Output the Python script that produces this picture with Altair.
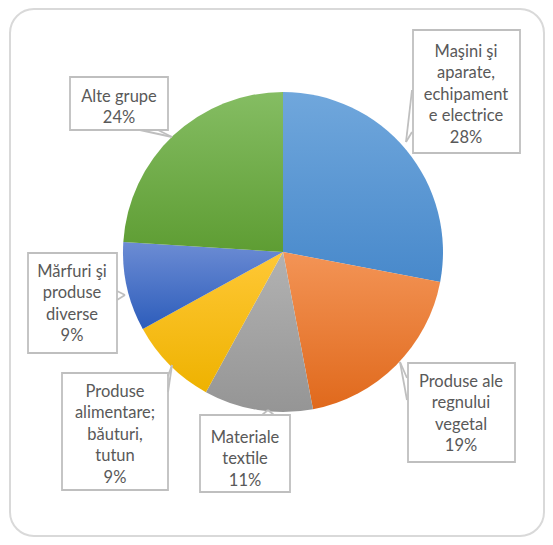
import altair as alt
import pandas as pd

# ---- data ----
categories = [
    "Maşini şi aparate, echipamente electrice",
    "Produse ale regnului vegetal",
    "Materiale textile",
    "Produse alimentare; băuturi, tutun",
    "Mărfuri şi produse diverse",
    "Alte grupe",
]
shares = [28, 19, 11, 9, 9, 24]
label_texts = [
    "Maşini şi\naparate,\nechipament\ne electrice\n28%",
    "Produse ale\nregnului\nvegetal\n19%",
    "Materiale\ntextile\n11%",
    "Produse\nalimentare;\nbăuturi,\ntutun\n9%",
    "Mărfuri şi\nproduse\ndiverse\n9%",
    "Alte grupe\n24%",
]
# (top, bottom) shades of each slice's vertical gradient
colors_top = ["#70a7dc", "#f39456", "#b2b2b2", "#ffc836", "#6c8cd4", "#85bd63"]
colors_bottom = ["#4889cb", "#e0691c", "#959595", "#eeb200", "#2d5dbb", "#5e9d33"]

# ---- layout (canvas pixels) ----
W, H = 537, 529
CX, CY, R = 275, 244, 160
label_first_line = [(458, 44), (453, 374), (237, 430), (107, 384), (64, 264), (111, 89)]
line_height = 21.4
label_box = [(405, 512, 22, 145), (400, 507, 355, 454), (192, 282, 407, 484),
             (54, 160, 365, 482), (20, 109, 245, 345), (62, 160, 69, 122)]
# callout pointer segments (x1, y1, x2, y2)
leaders = [
    (404, 82, 398, 134), (398, 134, 404, 124),
    (392, 354, 399, 370), (392, 354, 399, 392),
    (254, 407, 260, 402), (260, 402, 266, 407),
    (160, 384, 164, 357), (164, 357, 160, 368),
    (109, 283, 117, 287), (117, 287, 109, 292),
    (132, 122, 164, 129), (164, 129, 150, 122),
]

pie_df = pd.DataFrame({"cat": categories, "share": shares, "order": list(range(len(shares)))})
lab_df = pd.DataFrame({
    "text": label_texts,
    "tx": [c[0] for c in label_first_line], "ty": [c[1] for c in label_first_line],
    "x1": [b[0] for b in label_box], "x2": [b[1] for b in label_box],
    "y1": [b[2] for b in label_box], "y2": [b[3] for b in label_box],
})
lead_df = pd.DataFrame({
    "x1": [l[0] for l in leaders], "y1": [l[1] for l in leaders],
    "x2": [l[2] for l in leaders], "y2": [l[3] for l in leaders],
})
card_df = pd.DataFrame({"k": [0]})

card = alt.Chart(card_df).mark_rect(
    cornerRadius=24, fill="white", stroke="#d9d9d9", strokeWidth=2
).encode(x=alt.value(2), x2=alt.value(536), y=alt.value(1), y2=alt.value(528))

total = sum(shares)
base = alt.Chart(pie_df).transform_window(
    cum="sum(share)", sort=[alt.SortField("order")]
).transform_calculate(start="datum.cum - datum.share")

slices = []
for i in range(len(categories)):
    grad = {
        "gradient": "linear", "x1": 0, "y1": 0, "x2": 0, "y2": 1,
        "stops": [{"offset": 0, "color": colors_top[i]},
                  {"offset": 1, "color": colors_bottom[i]}],
    }
    slices.append(
        base.transform_filter(alt.datum.order == i).mark_arc(outerRadius=R).encode(
            theta=alt.Theta("start:Q", scale=alt.Scale(domain=[0, total])),
            theta2="cum:Q",
            fill=alt.value(grad),
            x=alt.value(CX), y=alt.value(CY),
        )
    )

boxes = alt.Chart(lab_df).mark_rect(fill="white", stroke="#bfbfbf", strokeWidth=1.8).encode(
    x=alt.X("x1:Q", scale=None), x2="x2:Q",
    y=alt.Y("y1:Q", scale=None), y2="y2:Q",
)

lines = alt.Chart(lead_df).mark_rule(color="#bfbfbf", strokeWidth=1.8).encode(
    x=alt.X("x1:Q", scale=None), y=alt.Y("y1:Q", scale=None),
    x2="x2:Q", y2="y2:Q",
)

texts = alt.Chart(lab_df).mark_text(
    font="Lato", fontSize=16.5, color="#595959", lineBreak="\n", lineHeight=line_height,
    align="center", baseline="middle",
).encode(x=alt.X("tx:Q", scale=None), y=alt.Y("ty:Q", scale=None), text="text:N")

chart = alt.layer(card, *slices, boxes, lines, texts).resolve_scale(theta="shared").properties(
    width=W, height=H, autosize=alt.AutoSizeParams(type="none"), padding=0
).configure_view(stroke=None)

chart.save("out.html", embed_options={"renderer": "svg", "actions": False})
